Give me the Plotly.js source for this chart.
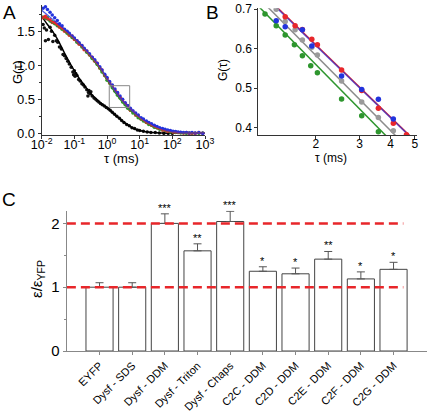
<!DOCTYPE html>
<html><head><meta charset="utf-8">
<script src="https://cdn.plot.ly/plotly-3.0.1.min.js"></script>
<style>html,body{margin:0;padding:0;background:#fff;} #chart{width:430px;height:413px;}</style>
</head><body><div id="chart"></div>
<script>
// ---------- Panel A data ----------
const aTau = [0.011,0.013,0.015,0.018,0.021,0.025,0.03,0.035,0.042,0.05,0.06,0.07,0.085,0.1,0.12,0.14,0.17,0.2,0.24,0.29,0.35,0.42,0.5,0.6,0.7,0.85,1.0,1.2,1.45,1.75,2.1,2.5,3.0,3.6,4.3,5.2,6.2,7.5,9,11,13,16,19,23,28,34,41,50,60,72,87,105,125,150,180,220,270,330,400,500,650,850];
const aRed = [1.70,1.72,1.68,1.67,1.63,1.63,1.60,1.56,1.55,1.50,1.49,1.44,1.43,1.38,1.36,1.31,1.29,1.23,1.21,1.15,1.12,1.06,1.03,0.96,0.93,0.85,0.81,0.74,0.70,0.63,0.59,0.53,0.49,0.44,0.40,0.34,0.32,0.27,0.26,0.21,0.20,0.16,0.15,0.12,0.11,0.08,0.07,0.05,0.045,0.03,0.03,0.02,0.02,0.01,0.01,0.005,0.01,0.0,0.005,0.0,0.01,0.0];
const aGreen = [1.71,1.69,1.70,1.65,1.64,1.61,1.58,1.57,1.53,1.51,1.47,1.45,1.41,1.39,1.34,1.32,1.27,1.24,1.19,1.16,1.10,1.07,1.01,0.96,0.90,0.85,0.78,0.74,0.67,0.62,0.56,0.52,0.46,0.42,0.37,0.34,0.30,0.27,0.23,0.21,0.18,0.16,0.13,0.12,0.09,0.08,0.06,0.05,0.04,0.03,0.02,0.02,0.01,0.01,0.005,0.005,0.0,0.005,0.0,0.0,0.0,0.005];
const aBlue = [1.84,1.86,1.82,1.78,1.74,1.70,1.66,1.61,1.58,1.53,1.50,1.47,1.43,1.40,1.36,1.33,1.29,1.25,1.21,1.17,1.12,1.08,1.03,0.98,0.93,0.87,0.82,0.76,0.71,0.65,0.60,0.55,0.50,0.45,0.41,0.37,0.33,0.30,0.27,0.23,0.21,0.18,0.16,0.14,0.12,0.10,0.08,0.07,0.06,0.05,0.04,0.03,0.025,0.02,0.015,0.01,0.01,0.005,0.01,0.005,0.01,0.0];
const aBlackTau = [0.011,0.012,0.013,0.014,0.016,0.018,0.02,0.022,0.025,0.028,0.031,0.035,0.04,0.045,0.05,0.056,0.063,0.07,0.08,0.09,0.095,0.1,0.105,0.11,0.12,0.135,0.15,0.17,0.19,0.21,0.24,0.26,0.27,0.28,0.3,0.32,0.35,0.4,0.45,0.5,0.56,0.63,0.72,0.83,0.95,1.1,1.25,1.45,1.7,2.0,2.4,2.8,3.3,4.0,4.8,5.8,7,8.5,10,13,17,22,30,40,55,75,100];
const aBlack = [1.60,1.55,1.36,1.52,1.38,1.56,1.50,1.35,1.44,1.36,1.34,1.27,1.24,1.16,1.14,1.10,1.06,1.02,0.97,0.90,0.86,0.92,0.84,0.88,0.85,0.79,0.77,0.73,0.71,0.68,0.64,0.55,0.60,0.63,0.58,0.61,0.55,0.52,0.50,0.48,0.46,0.44,0.42,0.40,0.38,0.36,0.34,0.31,0.28,0.25,0.22,0.19,0.16,0.13,0.11,0.08,0.07,0.05,0.04,0.03,0.02,0.01,0.01,0.004,0.0,0.0,0.0];
const aFitTau = [0.01,0.015,0.02,0.03,0.05,0.08,0.12,0.2,0.3,0.5,0.7,1,1.41,2,3,4.7,7,10,15,21,30,50,70,100,200,500,1000];
const aFitRed = [1.72,1.68,1.645,1.59,1.51,1.43,1.35,1.24,1.15,1.02,0.92,0.80,0.70,0.59,0.48,0.38,0.30,0.23,0.17,0.13,0.09,0.05,0.035,0.02,0.008,0.002,0];
const aFitBlue = [1.81,1.74,1.69,1.62,1.53,1.44,1.36,1.25,1.16,1.03,0.93,0.81,0.70,0.59,0.48,0.38,0.30,0.24,0.18,0.14,0.10,0.06,0.04,0.025,0.01,0.003,0];
const aFitGreen = [1.71,1.67,1.63,1.58,1.50,1.42,1.34,1.23,1.13,1.00,0.90,0.78,0.67,0.56,0.45,0.35,0.28,0.21,0.16,0.12,0.08,0.045,0.03,0.018,0.007,0.002,0];
const aBlackFitTau = [0.01,0.015,0.02,0.03,0.05,0.08,0.12,0.2,0.3,0.5,0.7,1,1.5,2,3,4.5,6.5,10,20,50,100,1000];
const aBlackFit = [1.72,1.60,1.52,1.39,1.18,1.0,0.86,0.71,0.60,0.49,0.43,0.38,0.30,0.25,0.18,0.12,0.07,0.04,0.015,0.004,0,0];
const zoomTau = [1.17, 4.94];
const zoomG = [0.38, 0.70];
const aTickVals = [0.01,0.1,1,10,100,1000];
const aTickText = ['10<sup>-2</sup>','10<sup>-1</sup>','10<sup>0</sup>','10<sup>1</sup>','10<sup>2</sup>','10<sup>3</sup>'];

// ---------- Panel B data ----------
const bGreenTau = [1.25,1.387,1.507,1.641,1.767,1.909,2.03,2.54,3.06,3.57];
const bGreen = [0.688,0.658,0.635,0.610,0.582,0.557,0.539,0.473,0.430,0.390];
const bBlueTau = [1.387,1.507,1.767,1.928,2.54,3.06,3.57,4.10];
const bBlue = [0.671,0.656,0.648,0.607,0.531,0.497,0.472,0.422];
const bRedTau = [1.507,1.652,1.767,1.928,2.03,2.54,3.06,3.57,4.10,4.63];
const bRed = [0.681,0.658,0.649,0.624,0.610,0.546,0.494,0.449,0.411,0.382];
const bGrayTau = [1.387,1.507,1.652,1.767,1.928,2.03,2.54,3.06,3.57,4.10];
const bGray = [0.700,0.669,0.648,0.622,0.604,0.584,0.518,0.465,0.426,0.392];
const bFitRedTau = [1.3, 4.8];   const bFitRed = [0.724, 0.378];
const bFitBlueTau = [1.3, 4.8];  const bFitBlue = [0.722, 0.377];
const bFitGrayTau = [1.2, 4.5];  const bFitGray = [0.724, 0.360];
const bFitGreenTau = [1.15, 4.2]; const bFitGreen = [0.714, 0.354];
const bTickVals = [2,3,4,5];
const bTickText = ['2','3','4','5'];

// ---------- Panel C data ----------
const cCats = ['EYFP','Dysf - SDS','Dysf - DDM','Dysf - Triton','Dysf - Chaps','C2C - DDM','C2D - DDM','C2E - DDM','C2F - DDM','C2G - DDM'];
const cVals = [1.0, 1.0, 2.0, 1.57, 2.03, 1.25, 1.21, 1.44, 1.13, 1.28];
const cErr  = [0.07, 0.07, 0.15, 0.11, 0.16, 0.07, 0.09, 0.12, 0.11, 0.11];
const cStars = ['', '', '***', '**', '***', '*', '*', '**', '*', '*'];
const refLevels = [1, 2];

// ---------- build ----------
const FONT = 'Arial, "Liberation Sans", sans-serif';
const W = 430, H = 413;
const px = v => v / W;
const py = v => 1 - v / H;
const RED = '#e8262a', GREEN = '#2e962e', BLUE = '#2233dd', GRAY = '#9a9a9a';

const traces = [];
function dots(x, y, color, size, xa, ya) {
  return {type:'scatter', mode:'markers', x, y, xaxis:xa, yaxis:ya, marker:{color, size, line:{width:0}}, hoverinfo:'skip'};
}
function line(x, y, color, width, xa, ya, extra) {
  return Object.assign({type:'scatter', mode:'lines', x, y, xaxis:xa, yaxis:ya, line:{color, width, shape:'spline'}, hoverinfo:'skip'}, extra || {});
}
// A
traces.push(dots(aBlackTau, aBlack, '#111', 3.5, 'x', 'y'));
traces.push(line(aBlackFitTau, aBlackFit, '#000', 1.5, 'x', 'y'));
traces.push(dots(aTau, aGreen, GREEN, 3.5, 'x', 'y'));
traces.push(dots(aTau, aRed, RED, 3.5, 'x', 'y'));
traces.push(dots(aTau, aBlue, BLUE, 3.5, 'x', 'y'));
traces.push(line(aFitTau, aFitGreen, GREEN, 1.2, 'x', 'y'));
traces.push(line(aFitTau, aFitRed, RED, 1.2, 'x', 'y'));
traces.push(line(aFitTau, aFitBlue, BLUE, 1.2, 'x', 'y', {opacity:0.8}));
traces.push({type:'scatter', mode:'lines', xaxis:'x', yaxis:'y', hoverinfo:'skip',
  x:[zoomTau[0], zoomTau[1], zoomTau[1], zoomTau[0], zoomTau[0]],
  y:[zoomG[0], zoomG[0], zoomG[1], zoomG[1], zoomG[0]],
  line:{color:'#888', width:1}});
// B
traces.push(line(bFitGreenTau, bFitGreen, GREEN, 1.5, 'x2', 'y2'));
traces.push(line(bFitGrayTau, bFitGray, '#8c8c8c', 1.5, 'x2', 'y2'));
traces.push(line(bFitRedTau, bFitRed, RED, 1.6, 'x2', 'y2'));
traces.push(line(bFitBlueTau, bFitBlue, BLUE, 1.6, 'x2', 'y2', {opacity:0.65}));
traces.push(dots(bGreenTau, bGreen, GREEN, 5.5, 'x2', 'y2'));
traces.push(dots(bGrayTau, bGray, GRAY, 5.5, 'x2', 'y2'));
traces.push(dots(bRedTau, bRed, RED, 5.5, 'x2', 'y2'));
traces.push(dots(bBlueTau, bBlue, BLUE, 5.5, 'x2', 'y2'));
// C
const cIdx = cCats.map((_, i) => i);
traces.push({type:'bar', x:cIdx, y:cVals, xaxis:'x3', yaxis:'y3', width:0.83,
  marker:{color:'#fff', line:{color:'#444', width:1}},
  error_y:{type:'data', symmetric:false, array:cErr, arrayminus:cErr.map(() => 0), color:'#555', thickness:1, width:4},
  hoverinfo:'skip'});
refLevels.forEach(l => traces.push({type:'scatter', mode:'lines', xaxis:'x3', yaxis:'y3', hoverinfo:'skip',
  x:[-1, 9.3], y:[l, l], line:{color:RED, width:2.5, dash:'9px,5px'}}));

const axBase = {showgrid:false, zeroline:false, showline:true, linecolor:'#333', linewidth:1,
  ticks:'outside', ticklen:3, tickcolor:'#333', tickfont:{family:FONT, size:13, color:'#000'}};

const annotations = [];
const ann = (x, y, text, size, extra) => annotations.push(Object.assign({xref:'paper', yref:'paper', x:px(x), y:py(y), text, showarrow:false,
  font:{family:FONT, size, color:'#000'}, xanchor:'center', yanchor:'middle'}, extra || {}));
ann(9, 13, 'A', 19);
ann(212, 13, 'B', 19);
ann(9, 200, 'C', 19);
ann(17, 72, 'G(τ)', 13, {textangle:-90});
ann(121, 158.5, 'τ (ms)', 13);
ann(223, 70, 'G(τ)', 12, {textangle:-90});
ann(331, 158, 'τ (ms)', 12);
ann(37, 279, 'ε/ε<sub>YFP</sub>', 15, {textangle:-90});
const cTopY = 351 - 2.2 * 63.8;
cStars.forEach((s, i) => { if (s) annotations.push({xref:'x3', yref:'y3', x:i, y:cVals[i] + cErr[i], text:s, showarrow:false,
  yanchor:'bottom', yshift:-2, font:{family:FONT, size:11, color:'#000'}}); });

const layout = {
  width:W, height:H, margin:{l:0, r:0, t:0, b:0}, paper_bgcolor:'#fff', plot_bgcolor:'#fff', showlegend:false,
  font:{family:FONT, color:'#000'},
  xaxis: Object.assign({}, axBase, {domain:[px(41.7), px(205)], type:'log', range:[-2, 3], tickvals:aTickVals, ticktext:aTickText, anchor:'y',
    ticklabelstandoff:-5, tickfont:{family:FONT, size:12.5, color:'#000'}}),
  yaxis: Object.assign({}, axBase, {domain:[py(135), py(4.5)], range:[-0.025, 1.894], dtick:0.5, tick0:0, tickformat:'.1f', anchor:'x',
    minor:{dtick:0.25, ticks:'outside', ticklen:2, tickcolor:'#333'}}),
  xaxis2: Object.assign({}, axBase, {domain:[px(258.3), px(416.7)], type:'log', range:[Math.log10(1.175), Math.log10(5.09)],
    tickvals:bTickVals, ticktext:bTickText, anchor:'y2', ticklabelstandoff:-5, tickfont:{family:FONT, size:12, color:'#000'}}),
  yaxis2: Object.assign({}, axBase, {domain:[py(135), py(8.3)], range:[0.3815, 0.7025], dtick:0.1, tick0:0, tickformat:'.1f', anchor:'x2',
    tickfont:{family:FONT, size:12, color:'#000'}}),
  xaxis3: Object.assign({}, axBase, {domain:[px(66.7), px(426.7)], range:[-1.005, 10.015], tickvals:cIdx, ticktext:cCats, tickangle:-45,
    linecolor:'#888', tickcolor:'#888', anchor:'y3', tickfont:{family:FONT, size:11, color:'#000'}}),
  yaxis3: Object.assign({}, axBase, {domain:[py(351), py(cTopY)], range:[0, 2.2], tickvals:[0,1,2], anchor:'x3',
    linecolor:'#888', tickcolor:'#888', tickfont:{family:FONT, size:15, color:'#000'},
    minor:{tickvals:[0.5,1.5], ticks:'outside', ticklen:2, tickcolor:'#888'}}),
  annotations
};
Plotly.newPlot('chart', traces, layout, {staticPlot:true, displayModeBar:false});
</script></body></html>
